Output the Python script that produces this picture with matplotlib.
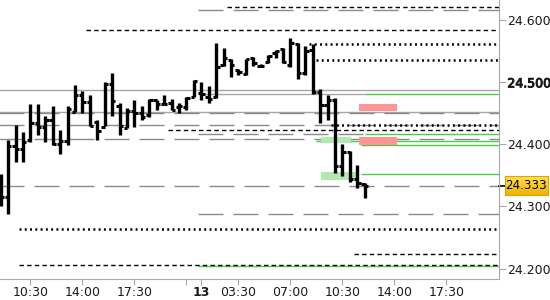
import numpy as np
import matplotlib; matplotlib.use("Agg")
import matplotlib.pyplot as plt
import matplotlib.patheffects as pe
from matplotlib.patches import Rectangle
from matplotlib.colors import LinearSegmentedColormap
from matplotlib.transforms import blended_transform_factory

plt.rcParams["lines.scale_dashes"] = False
plt.rcParams["font.family"] = "DejaVu Sans"

# ---------------------------------------------------------- 30-min OHLC bars
opens  = [24.327, 24.316, 24.397, 24.392, 24.407, 24.435, 24.428, 24.440, 24.401, 24.406,
          24.453, 24.480, 24.468, 24.436, 24.428, 24.497, 24.462, 24.427, 24.454, 24.451,
          24.447, 24.472, 24.465, 24.467, 24.460, 24.460, 24.476, 24.483, 24.477, 24.476,
          24.528, 24.536, 24.520, 24.513, 24.540, 24.526, 24.532, 24.547, 24.553, 24.528,
          24.561, 24.515, 24.552, 24.485, 24.464, 24.472, 24.365, 24.388, 24.344, 24.336]
highs  = [24.353, 24.407, 24.431, 24.420, 24.465, 24.465, 24.445, 24.462, 24.423, 24.462,
          24.496, 24.486, 24.480, 24.439, 24.501, 24.515, 24.467, 24.459, 24.472, 24.462,
          24.473, 24.472, 24.480, 24.473, 24.467, 24.476, 24.504, 24.501, 24.494, 24.563,
          24.555, 24.538, 24.522, 24.538, 24.541, 24.530, 24.544, 24.552, 24.555, 24.572,
          24.563, 24.559, 24.562, 24.490, 24.480, 24.474, 24.400, 24.390, 24.367, 24.337]
lows   = [24.300, 24.288, 24.371, 24.371, 24.404, 24.415, 24.404, 24.399, 24.385, 24.399,
          24.453, 24.450, 24.429, 24.407, 24.429, 24.445, 24.415, 24.426, 24.428, 24.439,
          24.444, 24.455, 24.465, 24.455, 24.451, 24.455, 24.476, 24.472, 24.467, 24.474,
          24.526, 24.509, 24.512, 24.512, 24.526, 24.525, 24.531, 24.539, 24.531, 24.525,
          24.505, 24.512, 24.482, 24.434, 24.439, 24.354, 24.349, 24.339, 24.330, 24.314]
closes = [24.316, 24.397, 24.392, 24.404, 24.435, 24.428, 24.440, 24.401, 24.406, 24.457,
          24.480, 24.468, 24.429, 24.422, 24.497, 24.470, 24.430, 24.454, 24.451, 24.444,
          24.472, 24.465, 24.465, 24.455, 24.462, 24.475, 24.502, 24.481, 24.473, 24.525,
          24.539, 24.528, 24.517, 24.537, 24.531, 24.526, 24.542, 24.551, 24.532, 24.563,
          24.515, 24.551, 24.485, 24.464, 24.472, 24.365, 24.388, 24.344, 24.338, 24.333]
last_price = 24.333

# x ticks (bar index) and labels
tick_pos    = [4, 11, 18, 25, 27, 32, 39, 46, 53, 60]
tick_labels = ["10:30", "14:00", "17:30", "", "13", "03:30", "07:00", "10:30", "14:00", "17:30"]
y_ticks     = [24.2, 24.3, 24.4, 24.5, 24.6]

# ---------------------------------------------------------- horizontal levels (price, start bar)
gray_solid   = [(24.487, 0), (24.453, 0)]
gray_dashed  = [(24.616, 27), (24.450, 0), (24.431, 0), (24.408, 0), (24.333, 0), (24.288, 27)]
gray_to_green_solid  = [(24.481, 27, 49)]   # gray until bar 49, then green
gray_to_green_dashed = [(24.416, 27, 49)]
black_dashed = [(24.621, 31), (24.585, 12), (24.423, 23), (24.223, 48), (24.205, 3)]
black_dotted = [(24.562, 42), (24.536, 43), (24.431, 45), (24.264, 3)]
green_lines  = [(24.405, 43), (24.399, 49), (24.353, 49), (24.204, 27)]
red_zones    = [(48.2, 53.3, 24.454, 24.465), (48.2, 53.3, 24.399, 24.412)]
green_zones  = [(43.1, 47.1, 24.402, 24.412), (43.1, 48.2, 24.343, 24.356)]

XMAX = 67.07
YLIM = (24.1831, 24.6327)
GRAY, DGRAY, GREEN = "#a6a6a6", "#8a8a8a", "#4ccc4c"
LONG = (0, (18, 7.2)); DASH = (0, (3.2, 2.3)); DOT = (0, (1.4, 2.4))

fig = plt.figure(figsize=(5.5, 3.0), dpi=100)
ax = fig.add_axes([0.0, 0.07, 0.9073, 0.93])

for p, s in gray_solid:
    ax.hlines(p, s - 0.5, XMAX, color=GRAY, lw=1.0, zorder=1)
for p, s in gray_dashed:
    ax.hlines(p, s - 0.5, XMAX, color=DGRAY, lw=1.0, linestyles=[LONG], zorder=1)
for p, s, e in gray_to_green_solid:
    ax.hlines(p, s - 0.5, e, color=GRAY, lw=1.0, zorder=1)
    ax.hlines(p, e, XMAX, color=GREEN, lw=1.0, zorder=1)
for p, s, e in gray_to_green_dashed:
    ax.hlines(p, s - 0.5, e, color=DGRAY, lw=1.0, linestyles=[LONG], zorder=1)
    ax.hlines(p, e, XMAX, color=GREEN, lw=1.0, zorder=1)
for p, s in black_dashed:
    ax.hlines(p, s - 0.5, XMAX, color="black", lw=1.0, linestyles=[DASH], zorder=2)
for p, s in black_dotted:
    ax.hlines(p, s - 0.5, XMAX, color="black", lw=1.8, linestyles=[DOT], zorder=2)
for p, s in green_lines:
    ax.hlines(p, s - 0.5, XMAX, color=GREEN, lw=1.0, zorder=1)
for x0, x1, y0, y1 in red_zones:
    ax.add_patch(Rectangle((x0, y0), x1 - x0, y1 - y0, color="#ff9494", lw=0, zorder=1.5))
for x0, x1, y0, y1 in green_zones:
    ax.add_patch(Rectangle((x0, y0), x1 - x0, y1 - y0, color="#b3e8b0", lw=0, zorder=1.5))

# OHLC bars
xi = np.arange(len(opens))
ax.vlines(xi, lows, highs, color="black", lw=2.4, zorder=3)
ax.hlines(opens, xi - 0.45, xi, color="black", lw=2.2, zorder=3)
ax.hlines(closes, xi, xi + 0.45, color="black", lw=2.2, zorder=3)

ax.set_xlim(-0.094, XMAX)
ax.set_ylim(*YLIM)
for sp in ["left", "top"]:
    ax.spines[sp].set_visible(False)
for sp in ["right", "bottom"]:
    ax.spines[sp].set_color("#a8a8a8")
ax.yaxis.tick_right()
ax.set_yticks(y_ticks)
ax.set_yticklabels([f"{v:.3f}" for v in y_ticks])
ax.set_xticks(tick_pos)
ax.set_xticklabels(tick_labels)
ax.tick_params(axis="y", length=5, color="#a8a8a8", labelsize=9, pad=1, labelcolor="#1a1a1a")
ax.tick_params(axis="x", length=4, color="#a8a8a8", labelsize=9, pad=1, labelcolor="#1a1a1a")
# heavier 24.500 label without widening it
ax.get_yticklabels()[3].set_path_effects([pe.withStroke(linewidth=0.7, foreground="#1a1a1a")])
ax.get_xticklabels()[4].set_fontweight("bold")

# last price marker: short black tick + gold box on the price scale
tr = blended_transform_factory(ax.transAxes, ax.transData)
ax.plot([1.0, 1.012], [last_price, last_price], color="black", lw=1.2, transform=tr, clip_on=False)
fy = 0.07 + 0.93 * (last_price - YLIM[0]) / (YLIM[1] - YLIM[0])
bw, bh = 43 / 550, 19 / 300
bax = fig.add_axes([505 / 550, fy - bh / 2, bw, bh])
grad = LinearSegmentedColormap.from_list("gold", ["#f2b200", "#ffe050"])
bax.imshow(np.linspace(0, 1, 32).reshape(-1, 1), cmap=grad, aspect="auto",
           extent=[0, 1, 0, 1], origin="lower")
bax.set_xlim(0, 1); bax.set_ylim(0, 1)
bax.set_xticks([]); bax.set_yticks([])
for sp in bax.spines.values():
    sp.set_color("#d9a800"); sp.set_linewidth(0.8)
bax.text(0.5, 0.5, f"{last_price:.3f}", ha="center", va="center", fontsize=8.6, color="black")

fig.savefig("out.png", dpi=100)
